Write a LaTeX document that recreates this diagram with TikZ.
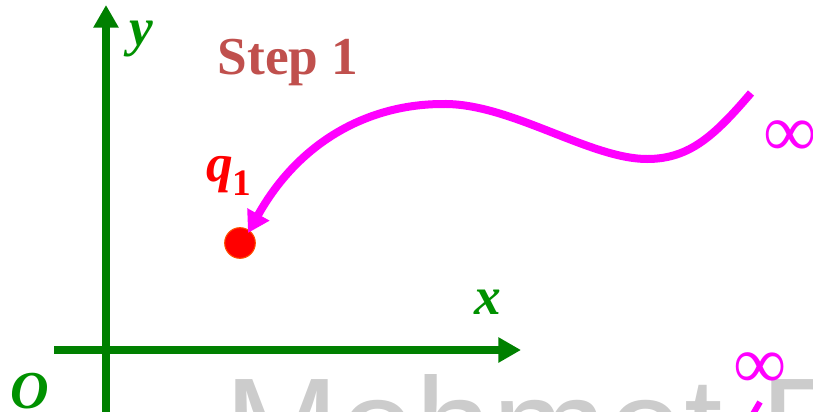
\documentclass[tikz,border=0pt]{standalone}
\usepackage{fontspec}
\setmainfont{Liberation Serif}
\newfontfamily\wmfont{Liberation Sans}
\usetikzlibrary{arrows.meta}
\definecolor{axgreen}{RGB}{0,128,0}
\definecolor{lblgreen}{RGB}{0,145,0}
\definecolor{stepred}{RGB}{192,80,77}
\definecolor{wmgray}{RGB}{204,204,204}
\definecolor{pmag}{RGB}{255,0,255}
\definecolor{pred}{RGB}{255,0,0}
\definecolor{dotedge}{RGB}{255,80,0}
\tikzset{
  axis/.style={draw=axgreen, line width=6pt, -{Triangle[length=17pt,width=18pt]}},
  lbl/.style={text=lblgreen, font=\fontsize{40}{44}\selectfont\bfseries\itshape, inner sep=0pt},
  pathline/.style={draw=pmag, line width=6pt, -{Triangle[length=16pt,width=18pt]}},
  inf/.style={text=pmag, font=\fontsize{56}{60}\selectfont, inner sep=0pt},
}
\begin{document}
\begin{tikzpicture}[x=0.75pt,y=-0.75pt]
\clip (0,0) rectangle (813,411);
\useasboundingbox (0,0) rectangle (813,411);
% watermark
\node[anchor=base west, inner sep=0pt, text=wmgray, font=\wmfont\fontsize{103.5}{110}\selectfont] (wm) at (224,474) {Mehmet P};
% axes
\coordinate (ybot) at (106,415);
\coordinate (ytop) at (106,5);
\coordinate (xleft) at (54,350);
\coordinate (xright) at (521,350);
\draw[axis] (ybot) -- (ytop);
\draw[axis] (xleft) -- (xright);
% labels
\node[lbl] (ylab) at (141,39) {y};
\node[lbl] (xlab) at (488,302) {x};
\node[lbl] (olab) at (30,391) {O};
\node[inner sep=0pt, text=stepred, font=\fontsize{40}{44}\selectfont\bfseries] (step) at (288,63) {Step 1};
\node[inner sep=0pt, text=pred, font=\fontsize{40}{44}\selectfont\bfseries\itshape] (q1) at (229,176) {q\textsubscript{\upshape 1}};
% point
\node[circle, fill=pred, draw=dotedge, line width=0.8pt, minimum size=23pt, inner sep=0pt] (dot) at (240,243) {};
% infinity labels
\node[inf] (inf1) at (790,139) {∞};
\node[inf] (inf2) at (760,371) {∞};
% curve
\coordinate (cstart) at (751,93);
\coordinate (cmin) at (647,159);
\coordinate (cpeak) at (443,104);
\coordinate (ctip) at (248,233);
\draw[pathline] (cstart) .. controls (715,135) and (690,159) .. (cmin)
  .. controls (590,159) and (510,103) .. (cpeak)
  .. controls (370,104) and (300,140) .. (ctip);
% small stroke at bottom
\coordinate (s1) at (760,402);
\coordinate (s2) at (753,414);
\draw[draw=pmag, line width=4.5pt] (s1) -- (s2);
\end{tikzpicture}
\end{document}
